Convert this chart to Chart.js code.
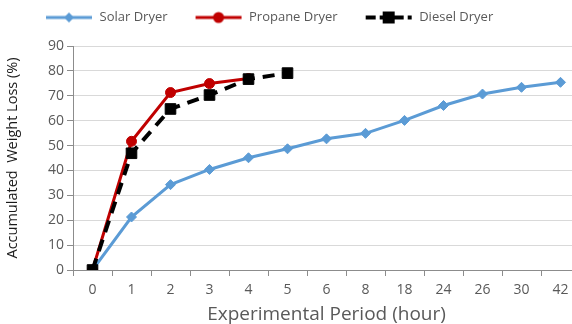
<!DOCTYPE html>
<html lang="en">
<head>
  <meta charset="UTF-8">
  <title>Accumulated Weight Loss</title>
  <script src="https://cdn.jsdelivr.net/npm/chart.js"></script>
  <style>
    html, body {
      margin: 0;
      padding: 0;
      background: #fff;
      overflow: hidden;
    }

    canvas {
      display: block;
    }
  </style>
</head>
<body>
  <canvas id="dryerChart" width="582" height="324"></canvas>

  <script>
    // Drying time in hours (category labels on the x axis)
    const hours = ['0', '1', '2', '3', '4', '5', '6', '8', '18', '24', '26', '30', '42'];

    // Accumulated weight loss (%) for each dryer
    const solarDryer = [0, 21.3, 34.3, 40.4, 45.1, 48.7, 52.7, 54.9, 60.1, 66.1, 70.7, 73.4, 75.4];
    const propaneDryer = [0, 51.7, 71.3, 74.9, 76.9];
    const dieselDryer = [0, 46.9, 64.7, 70.3, 76.7, 79.1];

    const yTicks = [0, 10, 20, 30, 40, 50, 60, 70, 80, 90];

    const fontFamily = '"Open Sans", "DejaVu Sans", sans-serif';
    const greyText = '#595959';
    const axisGrey = '#8c8c8c';

    // line + marker swatch for the legend (left 12px kept empty as spacing)
    function legendSwatch(color, width, dash, marker) {
      const c = document.createElement('canvas');
      c.width = 60;
      c.height = 14;
      const g = c.getContext('2d');
      g.strokeStyle = color;
      g.fillStyle = color;
      g.lineWidth = width;
      g.setLineDash(dash);
      g.beginPath();
      g.moveTo(13, 7);
      g.lineTo(59, 7);
      g.stroke();
      g.setLineDash([]);
      g.beginPath();
      if (marker === 'diamond') {
        g.moveTo(36, 2); g.lineTo(41, 7); g.lineTo(36, 12); g.lineTo(31, 7);
        g.closePath();
      } else if (marker === 'circle') {
        g.arc(36, 7, 5.5, 0, Math.PI * 2);
      } else {
        g.rect(30, 1, 12, 12);
      }
      g.fill();
      return c;
    }

    const swatches = [
      legendSwatch('#5b9bd5', 3, [], 'diamond'),
      legendSwatch('#c00000', 3, [], 'circle'),
      legendSwatch('#000000', 4, [10, 4], 'square')
    ];

    // nudge the legend row up and to the right after layout
    const legendNudge = {
      id: 'legendNudge',
      afterLayout(chart) {
        chart.legend.left += 14;
        chart.legend.top -= 12;
      }
    };

    const ctx = document.getElementById('dryerChart').getContext('2d');
    const dryerChart = new Chart(ctx, {
      type: 'line',
      data: {
        labels: hours,
        datasets: [
          {
            label: 'Solar Dryer',
            data: solarDryer,
            borderColor: '#5b9bd5',
            backgroundColor: '#5b9bd5',
            borderWidth: 3,
            pointStyle: 'rectRot',
            pointRadius: 5,
            pointBorderWidth: 1,
            order: 2
          },
          {
            label: 'Propane Dryer',
            data: propaneDryer,
            borderColor: '#c00000',
            backgroundColor: '#c00000',
            borderWidth: 3,
            pointStyle: 'circle',
            pointRadius: 5,
            pointBorderWidth: 1,
            order: 1
          },
          {
            label: 'Diesel Dryer',
            data: dieselDryer,
            borderColor: '#000000',
            backgroundColor: '#000000',
            borderWidth: 4,
            borderDash: [12, 8],
            pointStyle: 'rect',
            pointRadius: 7.5,
            pointBorderWidth: 1,
            order: 0
          }
        ]
      },
      plugins: [legendNudge],
      options: {
        responsive: false,
        animation: false,
        layout: {
          autoPadding: false,
          padding: { left: 4, right: 2, top: 8, bottom: 0 }
        },
        elements: {
          line: { tension: 0 }
        },
        plugins: {
          tooltip: { enabled: false },
          legend: {
            position: 'top',
            align: 'start',
            labels: {
              usePointStyle: true,
              pointStyleWidth: 60,
              padding: 15,
              color: greyText,
              font: { family: fontFamily, size: 13 },
              generateLabels(chart) {
                return chart.data.datasets.map((ds, i) => ({
                  text: ds.label,
                  fontColor: greyText,
                  pointStyle: swatches[i],
                  datasetIndex: i,
                  lineWidth: 0,
                  strokeStyle: 'transparent',
                  fillStyle: 'transparent'
                }));
              }
            }
          }
        },
        scales: {
          x: {
            offset: true,
            afterFit(scale) {
              scale.height = 54;
              scale.paddingLeft = 0;
              scale.paddingRight = 0;
            },
            border: { color: axisGrey, width: 1 },
            grid: {
              offset: true,
              drawOnChartArea: false,
              drawTicks: true,
              tickLength: 6,
              tickColor: axisGrey
            },
            ticks: {
              color: greyText,
              padding: 6,
              font: { family: fontFamily, size: 14 }
            },
            title: {
              display: true,
              text: 'Experimental Period (hour)',
              color: greyText,
              padding: { top: 0, bottom: -2 },
              font: { family: fontFamily, size: 19 }
            }
          },
          y: {
            min: 0,
            max: 90,
            afterBuildTicks(scale) {
              scale.ticks = yTicks.map(v => ({ value: v }));
            },
            afterFit(scale) {
              scale.width = 69;
              scale.paddingTop = 0;
              scale.paddingBottom = 0;
            },
            border: { color: axisGrey, width: 1 },
            grid: {
              color: '#d9d9d9',
              tickColor: axisGrey,
              tickLength: 6
            },
            ticks: {
              color: greyText,
              padding: 3,
              font: { family: fontFamily, size: 14 }
            },
            title: {
              display: true,
              text: 'Accumulated  Weight Loss (%)',
              color: '#1a1a1a',
              padding: { top: 0, bottom: 2 },
              font: { family: fontFamily, size: 14.5 }
            }
          }
        }
      }
    });
  </script>
</body>
</html>
